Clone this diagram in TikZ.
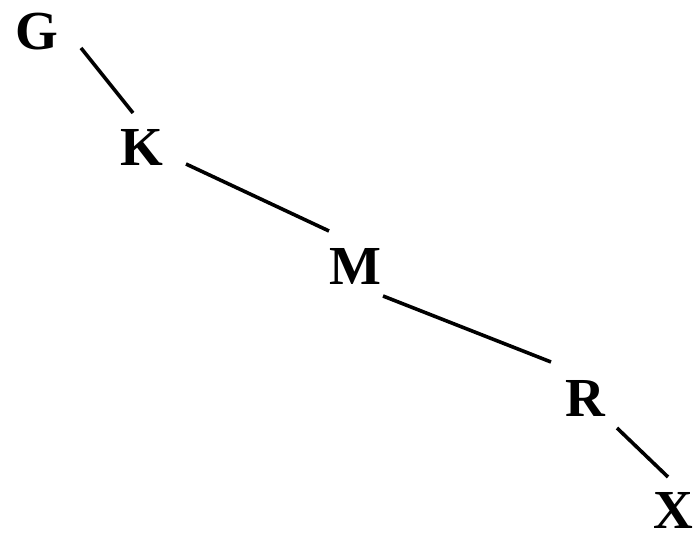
\documentclass[tikz,border=0pt]{standalone}
\usepackage{fontspec}
\setmainfont{Liberation Serif}
\usetikzlibrary{calc}
\begin{document}
\begin{tikzpicture}[x=1pt,y=1pt,
  lbl/.style={font=\fontsize{55}{55}\selectfont\bfseries, inner sep=0pt},
  edge/.style={line width=3.6pt}]
\useasboundingbox (0,0) rectangle (697,535);
\node[lbl] (G) at (37,503) {G};
\node[lbl] (K) at (142,387) {K};
\node[lbl] (M) at (355,269) {M};
\node[lbl] (R) at (585,137) {R};
\node[lbl] (X) at (673,25) {X};
\draw[edge] ($(G)+(44,-16)$) -- ($(K)+(-9,35)$);
\draw[edge] ($(K)+(44,-16)$) -- ($(M)+(-26,35)$);
\draw[edge] ($(M)+(28,-30)$) -- ($(R)+(-34,36)$);
\draw[edge] ($(R)+(32,-30)$) -- ($(X)+(-5,33)$);
\end{tikzpicture}
\end{document}
